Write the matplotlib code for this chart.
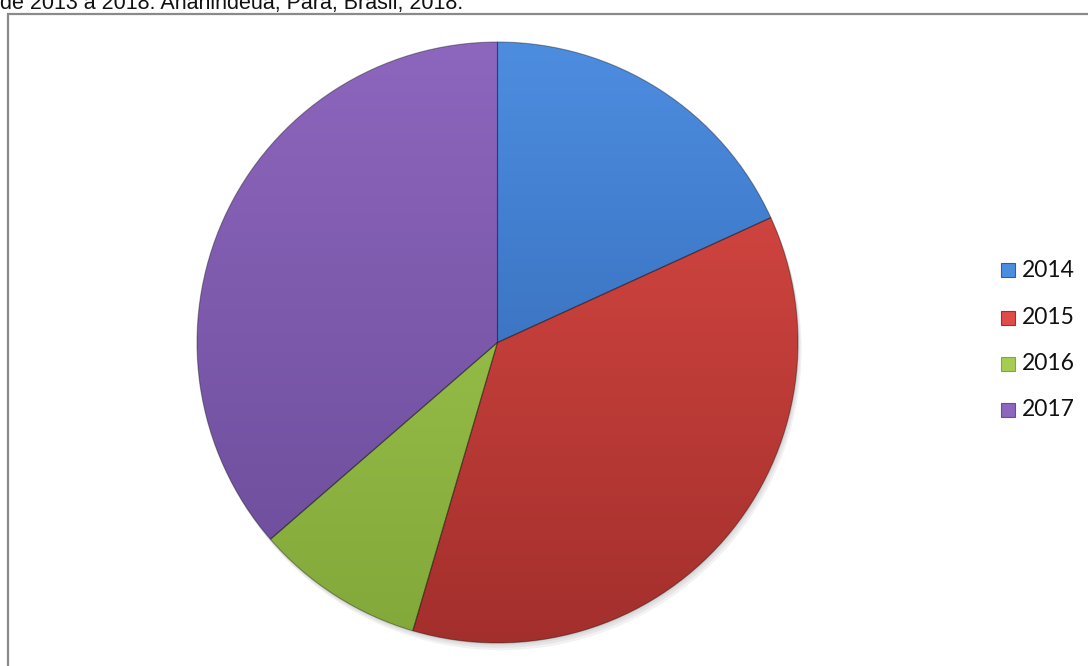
import numpy as np
import matplotlib.pyplot as plt
from matplotlib.patches import Rectangle, Circle
from matplotlib.colors import to_rgb

years = ["2014", "2015", "2016", "2017"]
values = [2, 4, 1, 4]
light = ["#4d8de0", "#e04c47", "#a6cd52", "#8d66bd"]
dark = ["#2b5ea8", "#a32f2c", "#82a83a", "#6a4b98"]

title = "de 2013 a 2018. Ananindeua, Pará, Brasil, 2018."

fig = plt.figure(figsize=(10.88, 6.66), dpi=100)
W, H = 1088, 666

# caption line cut off at the top
fig.text(0 / W, 1 - 9 / H, title, fontsize=15.5, family="Liberation Sans",
         va="baseline", ha="left", color="#111111")

# chart frame
fig.patches.append(Rectangle((8 / W, -0.1), 1.2, 1 - 14 / H + 0.1, transform=fig.transFigure,
                             fill=False, edgecolor="#8a8a8a", linewidth=1.6))

ax = fig.add_axes([197 / W, (666 - 643) / H, 601 / W, 601 / H])
ax.set_aspect("equal")
ax.axis("off")

# soft shadow
for i in range(3):
    ax.add_patch(Circle((0.004 * (i + 1), -0.008 * (i + 1)), 1.0, color="black", alpha=0.05,
                        linewidth=0, zorder=0, clip_on=False))

wedges, _ = ax.pie(values, startangle=90, counterclock=False, radius=1.0,
                   wedgeprops=dict(linewidth=0.8, edgecolor="#333333"))

for w, lc, dc in zip(wedges, light, dark):
    l = np.array(to_rgb(lc))
    d = np.array(to_rgb(dc))
    t = (1 - np.linspace(1, -1, 300)) / 2
    img = l[None, None, :] * (1 - t[:, None, None]) + d[None, None, :] * t[:, None, None]
    img = np.repeat(img, 2, axis=1)
    im = ax.imshow(img, extent=(-1, 1, -1, 1), origin="upper", zorder=1, interpolation="bilinear")
    im.set_clip_path(w)
    w.set_facecolor("none")
    w.set_zorder(2)
    w.set_edgecolor((0, 0, 0, 0.35))
    w.set_clip_on(False)

ax.set_xlim(-1, 1)
ax.set_ylim(-1, 1)

# legend
ys = [270, 318, 364, 410]
for yr, lc, dc, y in zip(years, light, dark, ys):
    fig.patches.append(Rectangle((1001 / W, 1 - (y + 7) / H), 14 / W, 14 / H,
                                 transform=fig.transFigure, facecolor=lc, edgecolor=dc, linewidth=0.8))
    fig.text(1022 / W, 1 - y / H, yr, fontsize=16.5, family="Lato", va="center", ha="left",
             color="#111111")

fig.savefig("out.png", dpi=100)
